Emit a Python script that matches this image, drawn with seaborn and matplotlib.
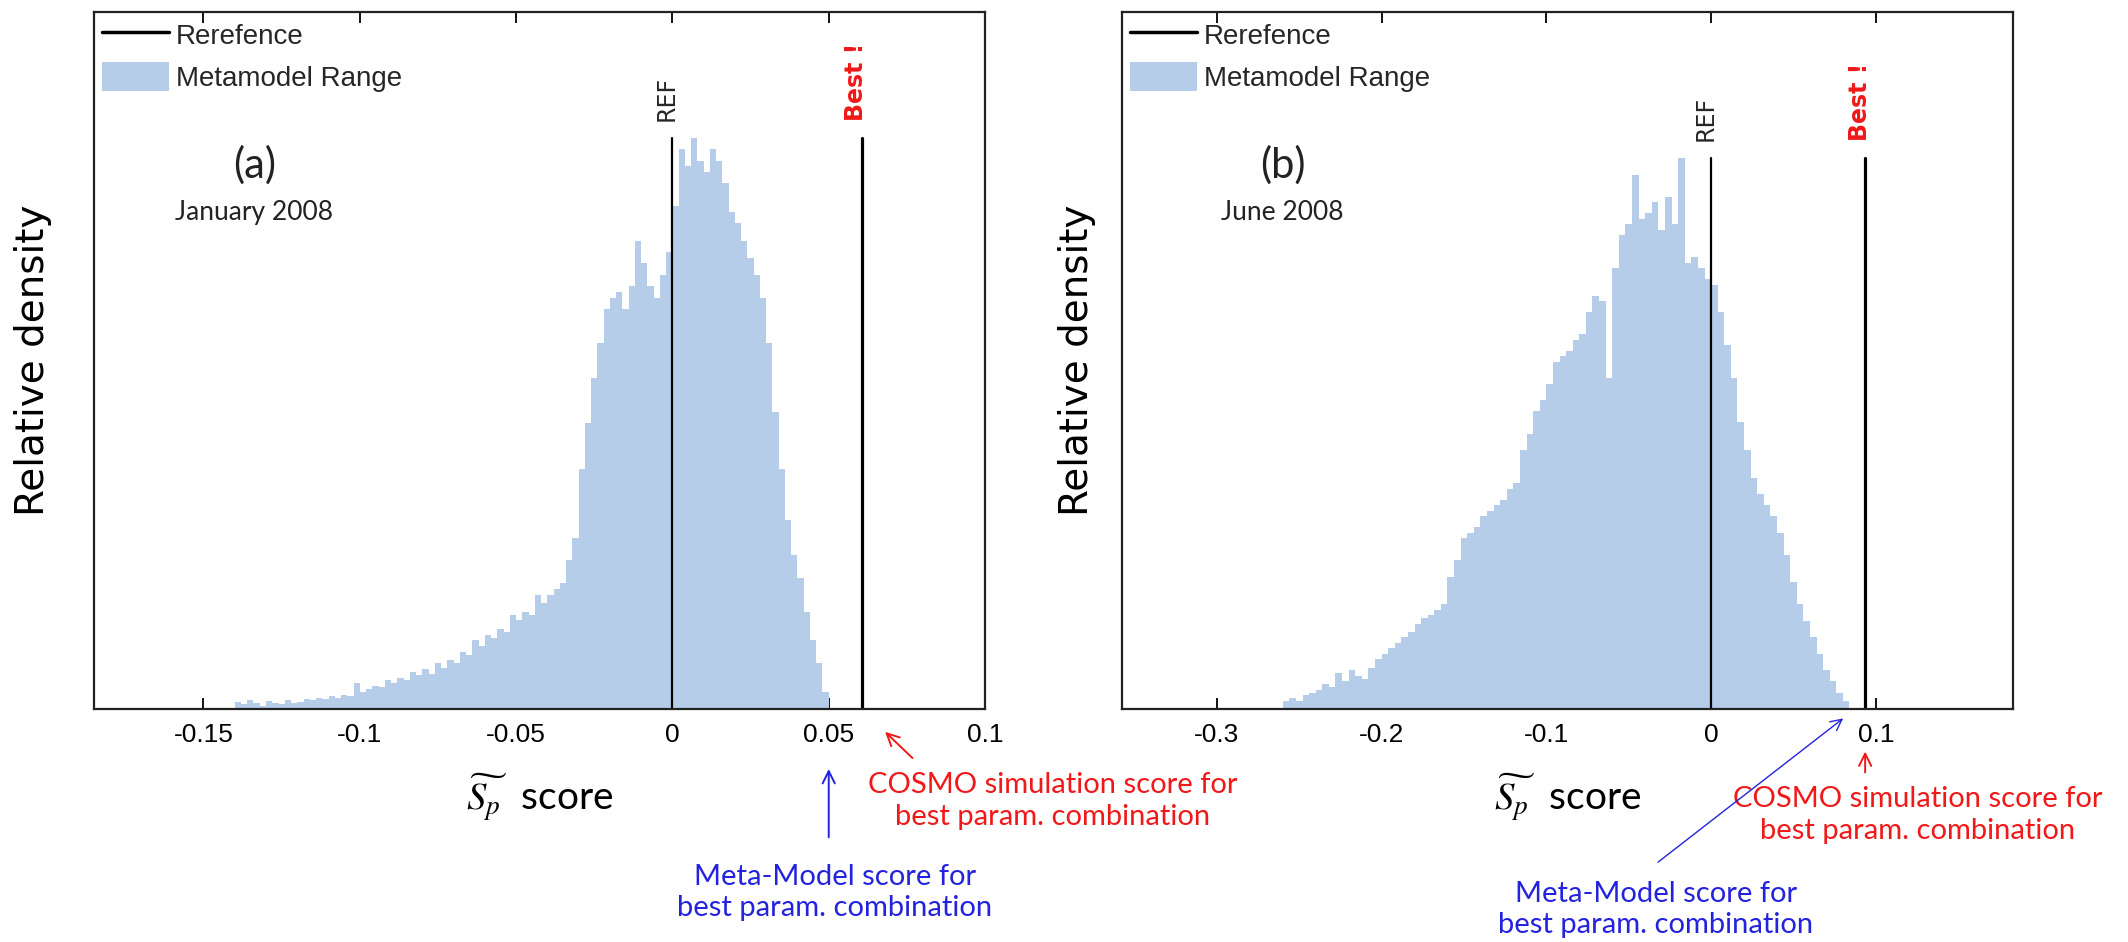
import numpy as np
import pandas as pd
import seaborn as sns
import matplotlib.pyplot as plt
from matplotlib.lines import Line2D
from matplotlib.patches import Patch

# relative density per histogram bin (tallest bin = 1)
jan_start = -0.140
jan_width = 0.002
jan_density = [
    0.012, 0.008, 0.015, 0.010, 0.006, 0.014, 0.010, 0.008, 0.016, 0.010,
    0.012, 0.018, 0.015, 0.020, 0.018, 0.022, 0.020, 0.025, 0.022, 0.045,
    0.030, 0.035, 0.040, 0.038, 0.050, 0.045, 0.055, 0.050, 0.065, 0.060,
    0.070, 0.062, 0.080, 0.072, 0.085, 0.080, 0.100, 0.095, 0.120, 0.110,
    0.130, 0.125, 0.140, 0.135, 0.165, 0.155, 0.170, 0.165, 0.200, 0.185,
    0.200, 0.210, 0.220, 0.260, 0.300, 0.420, 0.500, 0.580, 0.640, 0.700,
    0.720, 0.730, 0.700, 0.740, 0.820, 0.780, 0.740, 0.720, 0.760, 0.800,
    0.880, 0.980, 0.950, 1.000, 0.960, 0.940, 0.980, 0.960, 0.920, 0.870,
    0.850, 0.820, 0.790, 0.760, 0.720, 0.640, 0.520, 0.420, 0.330, 0.270,
    0.230, 0.170, 0.120, 0.080, 0.030,
]

jun_start = -0.260
jun_width = 0.004
jun_density = [
    0.015, 0.020, 0.015, 0.025, 0.030, 0.035, 0.045, 0.040, 0.065, 0.050,
    0.070, 0.060, 0.055, 0.075, 0.090, 0.100, 0.110, 0.120, 0.130, 0.140,
    0.155, 0.165, 0.170, 0.180, 0.190, 0.240, 0.270, 0.310, 0.320, 0.330,
    0.350, 0.360, 0.370, 0.380, 0.400, 0.410, 0.470, 0.500, 0.540, 0.560,
    0.590, 0.630, 0.640, 0.650, 0.670, 0.680, 0.720, 0.750, 0.740, 0.600,
    0.800, 0.860, 0.880, 0.970, 0.890, 0.900, 0.920, 0.870, 0.930, 0.880,
    1.000, 0.810, 0.820, 0.800, 0.780, 0.770, 0.720, 0.660, 0.600, 0.520,
    0.470, 0.420, 0.390, 0.370, 0.350, 0.320, 0.280, 0.230, 0.190, 0.160,
    0.130, 0.100, 0.070, 0.050, 0.030, 0.015,
]

ref_score = 0.0
jan_best = 0.0605     # COSMO simulation score, best combination
jun_best = 0.0935
jan_meta_best = 0.050  # meta-model score, best combination
jun_meta_best = 0.0815

jan_ticks = [-0.15, -0.1, -0.05, 0, 0.05, 0.1]
jan_ticklabels = ["-0.15", "-0.1", "-0.05", "0", "0.05", "0.1"]
jun_ticks = [-0.3, -0.2, -0.1, 0, 0.1]
jun_ticklabels = ["-0.3", "-0.2", "-0.1", "0", "0.1"]

hist_color = "#b5cde9"
red = "#f01818"
blue = "#2323dd"

sns.set_theme(style="white")
plt.rcParams["font.family"] = ["Liberation Sans", "DejaVu Sans"]
plt.rcParams["mathtext.fontset"] = "stix"

fig = plt.figure(figsize=(21.28, 9.42), dpi=100)
ax_a = fig.add_axes([0.0442, 0.2473, 0.4187, 0.7400])
ax_b = fig.add_axes([0.5273, 0.2473, 0.4187, 0.7400])

panels = [
    (ax_a, jan_start, jan_width, jan_density, jan_best, (-0.185, 0.1), 1.22,
     jan_ticks, jan_ticklabels, "(a)", "January 2008", 30),
    (ax_b, jun_start, jun_width, jun_density, jun_best, (-0.3575, 0.1833), 1.265,
     jun_ticks, jun_ticklabels, "(b)", "June 2008", 19),
]

for ax, start, width, dens, best, xlim, ytop, ticks, labels, tag, month, pad in panels:
    n = len(dens)
    centers = start + width * (np.arange(n) + 0.5)
    df = pd.DataFrame({"score": centers, "density": dens})
    sns.histplot(data=df, x="score", weights="density", binwidth=width,
                 binrange=(start, start + n * width), element="step",
                 fill=True, color=hist_color, alpha=1, linewidth=0, ax=ax)
    peak = max(dens)
    ax.plot([ref_score, ref_score], [0, peak], color="black", lw=1.6)
    ax.plot([best, best], [0, peak], color="black", lw=2.3)

    ax.annotate("REF", xy=(ref_score, peak * 1.03), xytext=(-4, 0),
                textcoords="offset points", rotation=90, ha="center", va="bottom",
                fontsize=17, family="DejaVu Sans")
    ax.annotate("Best !", xy=(best, peak * 1.03), xytext=(-4, 0),
                textcoords="offset points", rotation=90, ha="center", va="bottom",
                fontsize=17, family="DejaVu Sans", fontweight="bold", color=red)

    ax.set_xlim(*xlim)
    ax.set_ylim(0, ytop)
    ax.set_xticks(ticks)
    ax.set_xticklabels(labels, fontsize=19)
    ax.set_yticks([])
    ax.tick_params(axis="x", direction="in", length=8, width=1.3, top=True,
                   bottom=True, pad=10, colors="black")
    for sp in ax.spines.values():
        sp.set_visible(True)
        sp.set_color("#222222")
        sp.set_linewidth(1.6)

    ax.set_ylabel("Relative density", fontsize=28, family="DejaVu Sans",
                  labelpad=pad, color="black")
    ax.set_xlabel(r"$\widetilde{S_p}$  score", fontsize=28, family="Lato",
                  labelpad=18, color="black")

    ax.text(0.18, 0.78, tag, transform=ax.transAxes, ha="center", va="center",
            fontsize=30, family="Lato", color="#222222")
    ax.text(0.18, 0.712, month, transform=ax.transAxes, ha="center", va="center",
            fontsize=19, family="Lato", color="#222222")

    handles = [Line2D([], [], color="black", lw=2.5),
               Patch(facecolor=hist_color, edgecolor="none")]
    ax.legend(handles, ["Rerefence", "Metamodel Range"], loc="upper left",
              frameon=False, fontsize=20, handlelength=2.4, handleheight=1.2,
              handletextpad=0.25, labelspacing=0.45, borderaxespad=0.2,
              borderpad=0.1)

note_kw = dict(ha="center", va="center", fontsize=21, family="Lato",
               linespacing=1.25, annotation_clip=False)

# panel (a) notes
ax_a.annotate("", xy=(jan_meta_best, -0.082), xytext=(jan_meta_best, -0.188),
              xycoords=("data", "axes fraction"), textcoords=("data", "axes fraction"),
              arrowprops=dict(arrowstyle="->", color=blue, lw=1.4,
                              mutation_scale=22), annotation_clip=False)
ax_a.annotate("Meta-Model score for\nbest param. combination",
              xy=(0.052, -0.263), xycoords=("data", "axes fraction"),
              color=blue, **note_kw)
ax_a.annotate("", xy=(0.0674, -0.030), xytext=(0.0774, -0.073),
              xycoords=("data", "axes fraction"), textcoords=("data", "axes fraction"),
              arrowprops=dict(arrowstyle="->", color=red, lw=1.4,
                              mutation_scale=22), annotation_clip=False)
ax_a.annotate("COSMO simulation score for\nbest param. combination",
              xy=(0.1215, -0.132), xycoords=("data", "axes fraction"),
              color=red, **note_kw)

# panel (b) notes
ax_b.annotate("", xy=(jun_best, -0.057), xytext=(jun_best, -0.095),
              xycoords=("data", "axes fraction"), textcoords=("data", "axes fraction"),
              arrowprops=dict(arrowstyle="->", color=red, lw=1.4,
                              mutation_scale=22), annotation_clip=False)
ax_b.annotate("COSMO simulation score for\nbest param. combination",
              xy=(0.1256, -0.152), xycoords=("data", "axes fraction"),
              color=red, **note_kw)
ax_b.annotate("", xy=(jun_meta_best, -0.011), xytext=(-0.0335, -0.222),
              xycoords=("data", "axes fraction"), textcoords=("data", "axes fraction"),
              arrowprops=dict(arrowstyle="->", color=blue, lw=1.0,
                              mutation_scale=20), annotation_clip=False)
ax_b.annotate("Meta-Model score for\nbest param. combination",
              xy=(-0.0335, -0.288), xycoords=("data", "axes fraction"),
              color=blue, **note_kw)

fig.savefig("out.png", dpi=100)
